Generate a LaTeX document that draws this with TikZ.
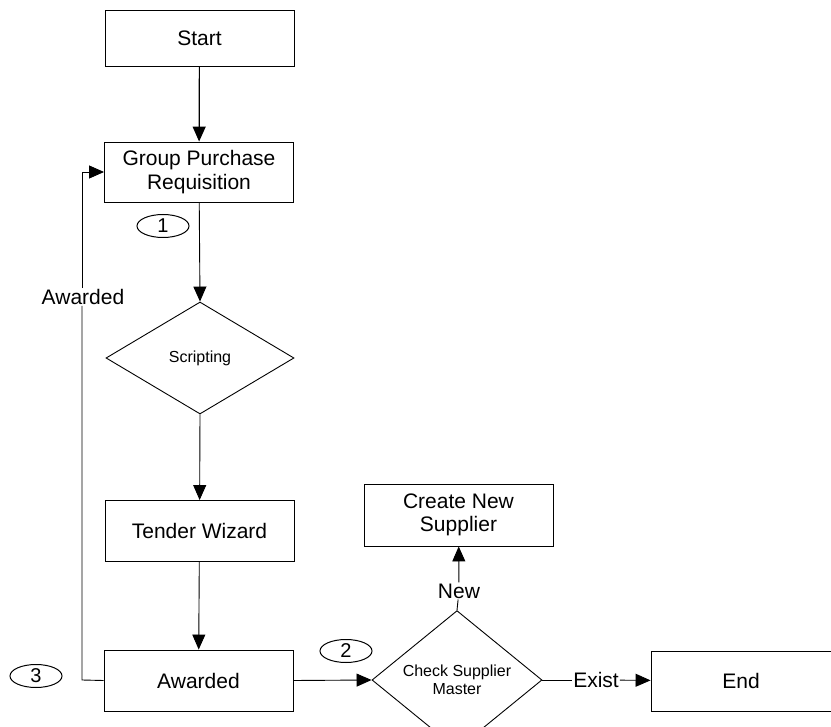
\documentclass[tikz,border=0pt]{standalone}
\usepackage{fontspec}
\setmainfont{Liberation Sans}
\usetikzlibrary{shapes.geometric,arrows.meta}
\begin{document}
\begin{tikzpicture}[x=1pt,y=-1pt,
  box/.style={draw,line width=0.9pt,minimum width=189pt,minimum height=60pt,inner sep=0pt,align=center,font=\fontsize{21}{23.5}\selectfont},
  dia/.style={draw,line width=0.9pt,diamond,inner sep=0pt,align=center,font=\fontsize{16}{18.5}\selectfont},
  num/.style={draw,line width=1pt,ellipse,minimum width=52pt,minimum height=23pt,inner sep=0pt,font=\fontsize{20}{20}\selectfont},
  lbl/.style={font=\fontsize{21}{23}\selectfont,inner sep=1pt},
  conn/.style={line width=0.9pt},
  arr/.style={line width=0.9pt,-{Triangle[length=15pt,width=13pt]}}]
\useasboundingbox (0,0) rectangle (831,727);
\node[box,minimum height=56pt] (start) at (199.5,38) {Start};
\node[box] (gpr) at (199,172) {Group Purchase\\Requisition};
\node[num] (n1) at (163,226) {1};
\node[dia,minimum width=188pt,minimum height=112pt] (scr) at (200,358) {Scripting};
\node[box,minimum height=61pt] (tw) at (199.5,531) {Tender Wizard};
\node[box,minimum height=61pt] (aw) at (198.5,680.5) {Awarded};
\node[num] (n3) at (36,676) {3};
\node[num] (n2) at (346,651) {2};
\node[dia,minimum width=170pt,minimum height=102pt] (chk) at (457,680) {Check Supplier\\Master};
\node[box,minimum height=62pt] (cns) at (458.5,515) {Create New\\Supplier};
\node[box,minimum width=180pt,minimum height=60pt] (end) at (741,681) {End};
\node[lbl] (lnew) at (459,591) {New};
\node[lbl] (lexist) at (596,680) {Exist};
\node[lbl] (lawd) at (83,297) {Awarded};
\coordinate (cl) at (82,680);
\coordinate (cu) at (82,172);
\draw[arr,line width=1.2pt] (start) -- (gpr);
\draw[arr] (gpr) -- (scr.north);
\draw[arr] (scr.south) -- (tw);
\draw[arr] (tw) -- (aw);
\draw[arr] (aw.east) -- (chk.west);
\draw[conn] (chk.north) -- (lnew);
\draw[arr] (lnew) -- (cns);
\draw[conn] (chk.east) -- (lexist);
\draw[arr] (lexist) -- (end);
\draw[conn] (aw.west) -- (cl) -- (lawd.south -| cl);
\draw[arr] (lawd.north -| cu) -- (cu) -- (gpr.west);
\end{tikzpicture}
\end{document}
